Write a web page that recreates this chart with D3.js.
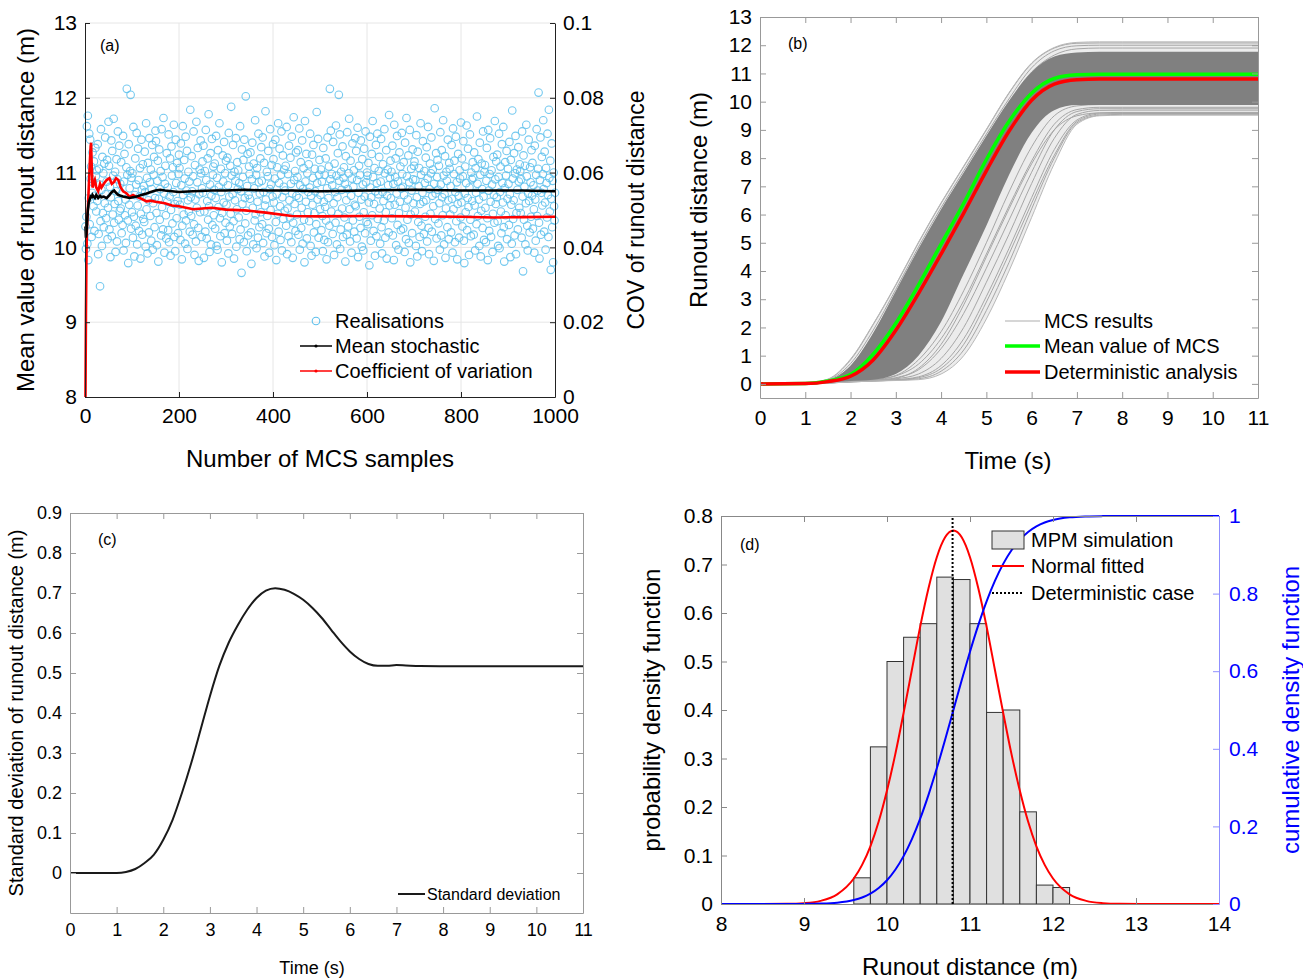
<!DOCTYPE html>
<html lang="en">
<head>
<meta charset="UTF-8">
<title>MCS runout distance</title>
<script src="https://cdn.jsdelivr.net/npm/d3@7"></script>
<style>
  body { margin: 0; background: #fff; }
  svg { display: block; }
</style>
</head>
<body>
<svg id="chart" width="1303" height="979"></svg>
<script>
// ---------- (a) Monte Carlo realisations ----------
const realisations = [
10.28,9.98,10.41,11.62,10.05,11.76,9.83,10.66,11.52,10.31,11.44,10.92,11.08,10.14,10.73,11.27,10.87,10.55,11.15,10.22,10.69,11.33,10.95,10.48,11.03,
10.62,11.38,9.91,10.18,11.05,10.84,9.48,10.35,11.58,10.77,10.02,11.21,10.46,10.99,10.27,11.12,10.59,11.47,10.71,10.39,10.88,11.17,10.11,10.53,11.68,
11.09,10.24,10.81,9.87,10.67,11.43,10.15,11.29,10.44,10.96,11.72,10.33,10.58,11.01,9.94,10.75,11.18,10.08,10.91,11.55,10.62,10.37,11.36,10.49,10.85,
10.52,11.14,10.19,10.72,10.30,11.49,9.96,10.88,11.25,10.43,10.64,10.06,11.07,12.12,10.97,10.36,9.79,11.38,10.57,10.79,11.02,12.04,10.25,10.93,10.47,
10.99,10.13,11.61,10.41,9.88,10.70,11.19,10.29,10.84,11.53,10.04,10.56,11.32,10.90,10.22,10.68,11.06,9.85,10.45,11.44,10.77,10.17,11.11,10.38,10.82,
10.34,11.28,10.74,10.01,11.66,10.51,10.93,9.92,11.13,10.63,10.20,11.46,10.87,10.42,11.04,10.09,10.78,11.37,9.97,10.59,10.97,11.21,10.27,10.66,11.56,
11.42,10.46,10.03,10.89,11.16,9.81,10.65,11.31,10.37,10.78,11.02,10.16,11.58,10.54,10.94,10.24,11.73,10.72,9.93,10.85,11.09,10.43,10.12,11.26,10.61,
10.80,10.23,11.51,10.07,10.68,11.19,9.89,10.50,11.35,10.96,10.32,11.07,10.74,11.64,10.14,10.58,9.95,11.44,10.86,10.39,11.13,10.62,10.19,10.98,11.24,
11.06,10.57,10.10,11.39,10.83,9.84,10.29,11.62,10.70,10.44,11.17,10.92,10.05,11.48,10.36,10.76,11.29,9.98,10.63,11.01,10.48,10.88,10.21,11.84,10.67,
10.42,11.22,10.75,10.17,10.95,11.55,10.31,9.90,11.10,10.64,10.08,11.68,10.53,10.87,11.33,10.26,9.82,10.71,11.04,10.47,11.43,10.99,10.14,10.79,11.15,
10.73,11.36,9.86,10.48,11.02,10.21,11.57,10.90,10.12,10.62,11.19,10.37,11.78,10.55,9.94,10.84,11.26,10.04,10.69,11.45,10.30,10.97,11.08,10.43,10.77,
11.12,10.25,10.66,11.49,10.02,10.93,9.97,11.30,10.54,10.81,11.66,10.39,10.15,11.05,10.74,9.80,10.46,11.23,10.88,10.60,11.41,10.19,10.99,10.33,11.16,
10.57,10.09,11.20,10.83,9.92,11.53,10.68,10.28,11.09,10.45,11.88,10.96,10.18,10.71,11.37,10.35,9.85,11.01,10.63,10.89,11.46,10.01,10.51,11.14,10.78,
11.03,10.40,10.86,10.11,11.62,10.24,10.75,9.66,11.31,10.58,10.94,11.17,10.07,11.44,10.66,10.32,12.02,10.49,9.95,10.82,11.25,10.16,10.70,11.08,10.98,
10.65,11.27,10.20,9.78,10.91,11.40,10.53,10.04,11.12,10.79,10.36,11.70,10.44,10.97,9.99,11.06,10.61,10.13,11.52,10.87,10.27,10.72,11.19,10.47,11.34,
10.89,10.31,11.47,10.06,10.74,11.13,9.88,10.56,11.82,10.64,10.19,11.01,10.42,10.95,11.29,10.25,9.93,10.78,11.58,10.50,10.84,11.10,10.14,10.68,11.38,
11.18,10.60,10.03,10.92,11.44,10.34,9.83,10.71,11.07,10.45,11.66,10.21,10.86,11.32,10.55,10.10,10.97,11.55,9.96,10.67,11.23,10.38,10.81,11.04,10.49,
10.76,11.09,10.29,11.61,9.91,10.52,10.98,10.15,11.36,10.63,10.40,11.20,10.85,10.07,11.48,10.72,9.86,10.33,11.74,10.90,10.58,11.02,10.22,11.27,10.69,
10.44,10.94,11.30,10.17,10.66,11.59,9.97,10.83,11.14,10.26,10.53,11.43,10.05,10.78,11.06,10.37,9.80,11.69,10.88,10.61,11.25,10.12,10.99,10.47,10.74,
11.11,10.35,10.80,11.52,10.02,10.69,9.89,11.24,10.57,10.93,11.37,10.20,10.46,11.05,10.75,9.94,10.31,11.81,10.86,10.64,11.45,10.13,10.97,11.17,10.51,
10.70,11.04,10.23,10.88,10.42,9.95,11.33,10.61,10.10,10.97,10.54,11.19,10.36,9.84,10.79,11.47,10.07,10.66,11.08,10.29,12.12,10.91,11.56,10.48,10.98,
10.83,10.18,11.41,10.59,9.90,11.12,10.74,10.33,11.63,10.96,10.04,10.67,11.26,10.45,12.04,10.89,11.51,9.98,10.24,11.01,10.77,10.52,11.35,10.14,10.93,
11.07,10.40,10.85,9.81,11.22,10.63,10.17,11.54,10.78,10.28,10.99,11.72,10.51,10.08,11.16,10.69,9.93,10.92,11.39,10.36,10.81,11.03,10.21,10.57,11.46,
10.55,11.29,10.12,10.90,11.60,9.87,10.73,11.09,10.41,10.97,10.26,11.43,10.64,10.01,11.18,10.84,9.96,10.47,11.32,10.68,10.19,11.55,10.87,10.34,11.00,
10.96,10.31,11.13,10.60,9.76,11.48,10.80,10.09,10.67,11.25,10.43,11.69,10.94,10.22,10.58,11.06,9.89,10.75,11.37,10.15,10.86,11.52,10.38,10.71,11.02,
11.21,10.52,10.05,10.88,11.45,10.27,9.92,10.74,11.11,10.62,10.36,11.58,10.99,10.13,10.47,11.30,9.85,10.69,11.04,10.83,10.20,11.77,10.56,10.93,11.16,
10.66,11.01,10.39,11.36,10.16,10.85,9.83,11.64,10.57,10.94,11.19,10.03,10.72,11.49,10.30,10.88,9.97,10.46,11.27,10.61,11.08,10.23,10.79,11.53,10.98,
10.81,10.25,11.14,10.70,9.94,11.40,10.53,10.11,11.73,10.95,10.37,10.64,11.23,10.06,10.87,11.57,9.80,10.44,11.05,10.76,10.19,11.31,10.91,10.59,11.09,
11.15,10.48,10.90,10.02,11.50,10.67,9.88,11.28,10.34,10.82,11.06,10.14,10.58,11.66,10.97,10.29,9.95,10.73,11.42,10.61,10.18,11.02,10.86,10.41,11.20,
10.63,11.34,10.08,10.92,11.61,10.26,9.91,10.78,11.12,10.45,10.99,11.47,10.21,10.69,11.04,10.55,9.82,10.85,11.86,10.38,10.72,11.26,10.12,10.94,11.17,
10.77,10.32,11.09,10.59,9.97,11.54,10.84,10.16,11.30,10.67,10.43,11.70,10.96,10.04,10.71,11.22,9.86,10.52,11.01,10.89,10.27,11.44,10.63,10.11,11.13,
11.05,10.44,10.82,10.20,11.37,10.65,9.93,11.59,10.51,10.98,11.16,10.07,10.74,11.48,10.35,10.87,9.84,10.58,11.25,10.69,10.13,11.03,10.92,10.40,11.67,
10.60,11.19,10.28,10.95,11.42,10.09,9.79,10.72,11.08,10.47,10.86,11.63,10.23,10.66,11.32,10.54,9.90,10.80,11.51,10.37,10.15,11.00,10.91,10.62,11.14,
10.93,10.17,11.27,10.56,9.96,11.06,10.73,10.31,11.75,10.85,10.42,11.18,10.64,10.02,11.40,10.97,9.88,10.49,11.12,10.78,10.26,11.55,10.68,10.10,11.01,
11.10,10.53,10.07,10.89,11.33,10.39,9.83,11.57,10.76,10.22,10.98,11.46,10.61,10.14,11.03,10.84,9.94,10.45,11.21,10.70,10.33,11.69,10.91,10.58,11.15,
10.67,11.24,10.35,10.02,10.94,11.52,9.99,10.74,11.08,10.48,10.19,11.38,10.86,10.60,11.61,10.27,9.81,10.79,11.14,10.43,10.96,11.29,10.11,10.65,11.05,
10.85,10.30,11.41,10.71,9.87,11.17,10.57,10.05,11.83,10.92,10.38,10.63,11.26,10.16,10.99,11.49,9.91,10.46,11.04,10.77,10.24,11.34,10.88,10.53,11.11,
11.02,10.46,10.91,10.13,11.55,10.68,9.68,11.23,10.37,10.81,11.09,10.04,10.59,11.64,10.95,10.29,9.96,10.72,11.44,10.62,10.20,11.07,10.87,10.41,11.30,
10.69,11.13,10.25,10.83,10.51,9.93,11.36,10.64,10.09,10.97,11.58,10.42,10.76,11.05,12.07,10.33,9.85,10.90,11.47,10.17,10.73,11.21,10.56,10.98,11.70,
10.78,10.21,11.28,10.60,9.97,11.06,10.86,10.40,11.52,10.70,10.14,11.84,10.93,10.48,11.16,9.70,10.65,11.39,10.27,10.89,9.80,11.00,10.55,10.36,10.73
];

// running statistics read at selected sample counts
const sampleN = [1,2,3,4,6,8,10,12,13,14,16,18,21,24,28,32,35,40,46,52,57,62,66,71,76,81,88,95,102,110,120,131,140,150,160,170,185,200,230,270,300,340,385,440,500,600,700,800,870,930,1000];
const meanStochastic = [10.28,10.13,10.18,10.30,10.50,10.60,10.64,10.68,10.70,10.66,10.70,10.68,10.66,10.70,10.66,10.69,10.67,10.68,10.66,10.70,10.74,10.76,10.73,10.70,10.69,10.68,10.67,10.66,10.67,10.68,10.70,10.72,10.74,10.76,10.77,10.76,10.75,10.74,10.75,10.76,10.76,10.77,10.76,10.76,10.75,10.76,10.77,10.76,10.76,10.76,10.75];
const covRunout = [0,0.022,0.036,0.045,0.050,0.056,0.062,0.067,0.068,0.063,0.056,0.057,0.058,0.056,0.055,0.057,0.056,0.057,0.058,0.0585,0.057,0.0575,0.0585,0.058,0.056,0.055,0.0545,0.0535,0.054,0.0535,0.053,0.0523,0.0525,0.0522,0.052,0.0518,0.0512,0.051,0.0502,0.0506,0.0501,0.0499,0.0493,0.0484,0.0483,0.0484,0.0483,0.0482,0.048,0.0481,0.0482];

// ---------- (b) runout distance histories ----------
const timeB = [0,1,1.5,2,2.5,3,3.5,4,4.5,5,5.5,6,6.5,7,7.5,8,11];
const meanMCS =       [0,0.01,0.10,0.33,1.05,2.15,3.50,4.95,6.40,7.95,9.30,10.30,10.82,10.95,10.97,10.97,10.97];
const deterministic = [0,0.01,0.08,0.27,0.85,1.90,3.20,4.60,6.05,7.55,8.95,10.05,10.62,10.78,10.80,10.80,10.80];
const upperOuter = [0,0.02,0.17,0.88,2.12,3.52,5.02,6.42,7.72,9.02,10.32,11.37,11.92,12.10,12.12,12.12,12.12];
const upperInner = [0,0.01,0.12,0.64,1.80,3.28,4.78,6.18,7.48,8.78,10.02,11.05,11.60,11.74,11.77,11.77,11.77];
const lowerInner = [0,0,0.04,0.10,0.15,0.35,1.00,2.20,3.90,5.60,7.40,8.90,9.70,9.88,9.88,9.88,9.88];
const lowerOuter = [0,0,0.03,0.07,0.10,0.12,0.15,0.35,1.00,2.30,4.00,5.90,7.80,9.20,9.50,9.52,9.52];
const mcsCurves = [
  [0,0,0.03,0.07,0.10,0.13,0.18,0.45,1.20,2.60,4.30,6.20,8.00,9.25,9.52,9.55,9.55],
  [0,0,0.03,0.08,0.11,0.15,0.25,0.65,1.60,3.10,4.80,6.60,8.30,9.35,9.60,9.62,9.62],
  [0,0,0.04,0.08,0.12,0.18,0.35,0.90,2.00,3.60,5.30,7.10,8.70,9.55,9.69,9.70,9.70],
  [0,0,0.04,0.09,0.13,0.22,0.50,1.25,2.50,4.10,5.80,7.50,9.00,9.65,9.75,9.75,9.75],
  [0,0,0.04,0.09,0.14,0.28,0.70,1.60,2.95,4.60,6.30,7.90,9.20,9.72,9.80,9.80,9.80],
  [0,0,0.03,0.08,0.12,0.20,0.55,1.40,2.80,4.50,6.20,7.80,9.00,9.50,9.60,9.60,9.60],
  [0,0,0.04,0.10,0.15,0.30,0.85,1.85,3.30,5.00,6.80,8.40,9.50,9.85,9.90,9.90,9.90],
  [0,0,0.03,0.07,0.10,0.14,0.22,0.55,1.40,2.90,4.60,6.40,8.10,9.30,9.56,9.58,9.58],
  [0,0.02,0.16,0.85,2.10,3.50,5.00,6.40,7.70,9.00,10.30,11.35,11.90,12.07,12.08,12.08,12.08],
  [0,0.02,0.14,0.72,1.90,3.35,4.85,6.25,7.55,8.85,10.10,11.20,11.80,11.98,12.00,12.00,12.00],
  [0,0.01,0.12,0.62,1.75,3.25,4.75,6.15,7.45,8.75,10.00,11.05,11.65,11.87,11.90,11.90,11.90]
];

// ---------- (c) standard deviation ----------
const timeC = [0,0.5,1,1.2,1.4,1.6,1.8,2,2.2,2.4,2.6,2.8,3,3.2,3.4,3.6,3.8,4,4.2,4.4,4.6,4.8,5,5.2,5.4,5.6,5.8,6,6.2,6.4,6.6,6.8,7,7.2,7.5,8,9,10,11];
const stdRunout = [0,0,0,0.0025,0.01,0.025,0.046,0.083,0.133,0.200,0.275,0.358,0.442,0.517,0.575,0.620,0.658,0.6875,0.706,0.712,0.708,0.698,0.683,0.6625,0.6375,0.608,0.579,0.554,0.535,0.5225,0.518,0.518,0.520,0.519,0.5175,0.517,0.517,0.517,0.517];

// ---------- (d) distribution of final runout ----------
const binStart = [9.6,9.8,10.0,10.2,10.4,10.6,10.8,11.0,11.2,11.4,11.6,11.8,12.0];
const binWidth = 0.2;
const binDensity = [0.054,0.324,0.50,0.55,0.578,0.674,0.669,0.578,0.395,0.40,0.19,0.039,0.034];
const runoutX = [8,8.8,9.0,9.2,9.4,9.6,9.7,9.8,9.9,10.0,10.1,10.2,10.3,10.4,10.5,10.6,10.7,10.8,10.9,11.0,11.1,11.2,11.3,11.4,11.5,11.6,11.7,11.8,11.9,12.0,12.2,12.4,12.6,12.8,13.2,14];
const normalPdf = [0,0.0004,0.0018,0.0065,0.020,0.0526,0.0807,0.119,0.170,0.234,0.309,0.394,0.483,0.572,0.651,0.715,0.756,0.770,0.756,0.715,0.651,0.572,0.483,0.394,0.309,0.234,0.170,0.119,0.0807,0.0526,0.020,0.0065,0.0018,0.0004,0,0];
const normalCdf = [0,0.00006,0.0003,0.001,0.0034,0.0103,0.0168,0.0267,0.0412,0.0613,0.0884,0.1234,0.1673,0.2200,0.2813,0.3497,0.4235,0.5,0.5765,0.6503,0.7187,0.78,0.8327,0.8766,0.9116,0.9387,0.9588,0.9733,0.9832,0.9897,0.9966,0.999,0.9997,0.9999,1,1];
const deterministicRunout = 10.79;

// ---------- drawing ----------
const FONT = '"Liberation Sans", Arial, Helvetica, sans-serif';
const svg = d3.select('#chart').attr('font-family', FONT);

function styleAxis(g, size, textColor, lineColor) {
  g.attr('font-family', FONT).attr('font-size', size);
  g.selectAll('text').attr('fill', textColor);
  g.selectAll('.tick line').attr('stroke', lineColor);
  g.select('.domain').attr('stroke', lineColor);
}

function label(x, y, text, size, opts = {}) {
  const t = svg.append('text')
    .attr('x', x).attr('y', y)
    .attr('font-size', size)
    .attr('fill', opts.color || '#000')
    .attr('text-anchor', opts.anchor || 'start')
    .text(text);
  if (opts.rotate) {
    t.attr('dominant-baseline', 'central')
     .attr('transform', `rotate(-90,${x},${y})`);
  }
  return t;
}

const fmt = d => String(+d.toFixed(2));

// ===== panel (a) =====
const xA = d3.scaleLinear().domain([0, 1000]).range([85, 555]);
const yA = d3.scaleLinear().domain([8, 13]).range([397, 23]);
const yA2 = d3.scaleLinear().domain([0, 0.1]).range([397, 23]);
const gA = svg.append('g');

gA.selectAll('.gx').data([200, 400, 600, 800]).join('line')
  .attr('x1', d => xA(d)).attr('x2', d => xA(d))
  .attr('y1', yA(8)).attr('y2', yA(13))
  .attr('stroke', '#e6e6e6');
gA.selectAll('.gy').data([9, 10, 11, 12, 13]).join('line')
  .attr('x1', xA(0)).attr('x2', xA(1000))
  .attr('y1', d => yA(d)).attr('y2', d => yA(d))
  .attr('stroke', '#e6e6e6');

gA.append('g').selectAll('circle').data(realisations).join('circle')
  .attr('cx', (d, i) => xA(i + 1))
  .attr('cy', d => yA(d))
  .attr('r', 3.8)
  .attr('fill', 'none')
  .attr('stroke', '#5cbfec')
  .attr('stroke-opacity', 0.85)
  .attr('stroke-width', 1.1);

const idxA = sampleN.map((d, i) => i);
gA.append('path').datum(idxA)
  .attr('d', d3.line().x(i => xA(sampleN[i])).y(i => yA2(covRunout[i])))
  .attr('fill', 'none').attr('stroke', '#ff0000').attr('stroke-width', 2.6);
gA.append('path').datum(idxA)
  .attr('d', d3.line().x(i => xA(sampleN[i])).y(i => yA(meanStochastic[i])))
  .attr('fill', 'none').attr('stroke', '#000').attr('stroke-width', 2.6);

styleAxis(gA.append('g').attr('transform', 'translate(0,397)')
  .call(d3.axisBottom(xA).tickValues([0, 200, 400, 600, 800, 1000]).tickFormat(fmt).tickSize(-5).tickSizeOuter(0).tickPadding(11)),
  21, '#000', '#222');
styleAxis(gA.append('g').attr('transform', 'translate(85,0)')
  .call(d3.axisLeft(yA).tickValues([8, 9, 10, 11, 12, 13]).tickFormat(fmt).tickSize(-5).tickSizeOuter(0).tickPadding(8)),
  21, '#000', '#222');
styleAxis(gA.append('g').attr('transform', 'translate(555,0)')
  .call(d3.axisRight(yA2).tickValues([0, 0.02, 0.04, 0.06, 0.08, 0.1]).tickFormat(fmt).tickSize(-5).tickSizeOuter(0).tickPadding(8)),
  21, '#000', '#222');

label(100, 51, '(a)', 16);
label(320, 467, 'Number of MCS samples', 24, { anchor: 'middle' });
label(25, 210, 'Mean value of runout distance (m)', 24, { anchor: 'middle', rotate: true });
label(636, 210, 'COV of runout distance', 23, { anchor: 'middle', rotate: true });

// legend (a)
svg.append('circle').attr('cx', 316).attr('cy', 321).attr('r', 3.8)
  .attr('fill', 'none').attr('stroke', '#5cbfec').attr('stroke-width', 1.1);
[[346, '#000'], [371, '#ff0000']].forEach(([y, c]) => {
  svg.append('line').attr('x1', 300).attr('x2', 332).attr('y1', y).attr('y2', y)
    .attr('stroke', c).attr('stroke-width', 1.5);
  svg.append('circle').attr('cx', 316).attr('cy', y).attr('r', 1.6).attr('fill', c);
});
label(335, 328, 'Realisations', 20);
label(335, 353, 'Mean stochastic', 20);
label(335, 378, 'Coefficient of variation', 20);

// ===== panel (b) =====
const xB = d3.scaleLinear().domain([0, 11]).range([760, 1258]);
const yB = d3.scaleLinear().domain([-0.5, 13]).range([398, 17]);
const gB = svg.append('g');
const idxB = timeB.map((d, i) => i);
const bandB = (lo, hi) => d3.area().x(i => xB(timeB[i])).y0(i => yB(lo[i])).y1(i => yB(hi[i])).curve(d3.curveMonotoneX);
const lineB = arr => d3.line().x(i => xB(timeB[i])).y(i => yB(arr[i])).curve(d3.curveMonotoneX);

gB.append('path').datum(idxB).attr('d', bandB(lowerOuter, upperOuter)).attr('fill', '#ececec');
mcsCurves.forEach(c => {
  gB.append('path').datum(idxB).attr('d', lineB(c))
    .attr('fill', 'none').attr('stroke', '#a6a6a6').attr('stroke-width', 1);
});
gB.append('path').datum(idxB).attr('d', lineB(lowerOuter))
  .attr('fill', 'none').attr('stroke', '#b8b8b8').attr('stroke-width', 1);
gB.append('path').datum(idxB).attr('d', lineB(upperOuter))
  .attr('fill', 'none').attr('stroke', '#b8b8b8').attr('stroke-width', 1);
gB.append('path').datum(idxB).attr('d', bandB(lowerInner, upperInner)).attr('fill', '#808080');
gB.append('path').datum(idxB).attr('d', lineB(meanMCS))
  .attr('fill', 'none').attr('stroke', '#00ff00').attr('stroke-width', 3.5);
gB.append('path').datum(idxB).attr('d', lineB(deterministic))
  .attr('fill', 'none').attr('stroke', '#ff0000').attr('stroke-width', 3.5);

function boxAxes(g, x, y, xt, yt, size, xPad, boxColor) {
  const [x0, x1] = x.range(), [y0, y1] = y.range();
  styleAxis(g.append('g').attr('transform', `translate(0,${y0})`)
    .call(d3.axisBottom(x).tickValues(xt).tickFormat(fmt).tickSize(-6).tickSizeOuter(0).tickPadding(xPad)), size, '#000', boxColor);
  styleAxis(g.append('g').attr('transform', `translate(${x0},0)`)
    .call(d3.axisLeft(y).tickValues(yt).tickFormat(fmt).tickSize(-6).tickSizeOuter(0).tickPadding(8)), size, '#000', boxColor);
  styleAxis(g.append('g').attr('transform', `translate(0,${y1})`)
    .call(d3.axisTop(x).tickValues(xt).tickFormat('').tickSize(-6).tickSizeOuter(0)), size, '#000', boxColor);
  styleAxis(g.append('g').attr('transform', `translate(${x1},0)`)
    .call(d3.axisRight(y).tickValues(yt).tickFormat('').tickSize(-6).tickSizeOuter(0)), size, '#000', boxColor);
}
boxAxes(gB, xB, yB, d3.range(0, 12), d3.range(0, 14), 21, 12, '#999');

label(788, 49, '(b)', 16);
label(1008, 469, 'Time (s)', 24, { anchor: 'middle' });
label(698, 200, 'Runout distance (m)', 24, { anchor: 'middle', rotate: true });

[[321, '#c8c8c8', 1.5, 'MCS results'], [346, '#00ff00', 3.5, 'Mean value of MCS'], [372, '#ff0000', 3.5, 'Deterministic analysis']]
  .forEach(([y, c, w, t]) => {
    svg.append('line').attr('x1', 1005).attr('x2', 1040).attr('y1', y).attr('y2', y)
      .attr('stroke', c).attr('stroke-width', w);
    label(1044, y + 7, t, 20);
  });

// ===== panel (c) =====
const xC = d3.scaleLinear().domain([0, 11]).range([70, 583]);
const yC = d3.scaleLinear().domain([-0.1, 0.9]).range([913, 513]);
const gC = svg.append('g');
gC.append('path').datum(timeC.map((d, i) => i))
  .attr('d', d3.line().x(i => xC(timeC[i])).y(i => yC(stdRunout[i])).curve(d3.curveMonotoneX))
  .attr('fill', 'none').attr('stroke', '#1a1a1a').attr('stroke-width', 2);
boxAxes(gC, xC, yC, d3.range(0, 12), d3.range(0, 10).map(d => d / 10), 18, 10, '#999');

label(98, 545, '(c)', 16);
label(312, 974, 'Time (s)', 18, { anchor: 'middle' });
label(16, 713, 'Standard deviation of runout distance (m)', 20, { anchor: 'middle', rotate: true });
svg.append('line').attr('x1', 398).attr('x2', 425).attr('y1', 894).attr('y2', 894)
  .attr('stroke', '#1a1a1a').attr('stroke-width', 2);
label(427, 900, 'Standard deviation', 16);

// ===== panel (d) =====
const xD = d3.scaleLinear().domain([8, 14]).range([721, 1219]);
const yD = d3.scaleLinear().domain([0, 0.8]).range([904, 516]);
const yD2 = d3.scaleLinear().domain([0, 1]).range([904, 516]);
const gD = svg.append('g');

gD.selectAll('rect').data(binStart).join('rect')
  .attr('x', d => xD(d))
  .attr('width', d => xD(d + binWidth) - xD(d))
  .attr('y', (d, i) => yD(binDensity[i]))
  .attr('height', (d, i) => yD(0) - yD(binDensity[i]))
  .attr('fill', '#e0e0e0').attr('stroke', '#333').attr('stroke-width', 1);

const idxD = runoutX.map((d, i) => i);
gD.append('path').datum(idxD)
  .attr('d', d3.line().x(i => xD(runoutX[i])).y(i => yD(normalPdf[i])).curve(d3.curveMonotoneX))
  .attr('fill', 'none').attr('stroke', '#ff0000').attr('stroke-width', 2);
gD.append('path').datum(idxD)
  .attr('d', d3.line().x(i => xD(runoutX[i])).y(i => yD2(normalCdf[i])).curve(d3.curveMonotoneX))
  .attr('fill', 'none').attr('stroke', '#0000ff').attr('stroke-width', 2);
gD.append('line')
  .attr('x1', xD(deterministicRunout)).attr('x2', xD(deterministicRunout))
  .attr('y1', yD(0)).attr('y2', yD(0.8))
  .attr('stroke', '#000').attr('stroke-width', 2).attr('stroke-dasharray', '2,2');

styleAxis(gD.append('g').attr('transform', 'translate(0,904)')
  .call(d3.axisBottom(xD).tickValues(d3.range(8, 15)).tickFormat(fmt).tickSize(-6).tickSizeOuter(0).tickPadding(12)), 21, '#000', '#888');
styleAxis(gD.append('g').attr('transform', 'translate(0,516)')
  .call(d3.axisTop(xD).tickValues(d3.range(8, 15)).tickFormat('').tickSize(-6).tickSizeOuter(0)), 21, '#000', '#888');
styleAxis(gD.append('g').attr('transform', 'translate(721,0)')
  .call(d3.axisLeft(yD).tickValues(d3.range(0, 9).map(d => d / 10)).tickFormat(fmt).tickSize(-6).tickSizeOuter(0).tickPadding(8)), 21, '#000', '#888');
styleAxis(gD.append('g').attr('transform', 'translate(1219,0)')
  .call(d3.axisRight(yD2).tickValues([0, 0.2, 0.4, 0.6, 0.8, 1]).tickFormat(fmt).tickSize(-6).tickSizeOuter(0).tickPadding(10)), 21, '#0000ff', '#8f8fff');

label(740, 550, '(d)', 16);
label(970, 975, 'Runout distance (m)', 24, { anchor: 'middle' });
label(651, 710, 'probability density function', 24, { anchor: 'middle', rotate: true });
label(1290, 710, 'cumulative density function', 24, { anchor: 'middle', rotate: true, color: '#0000ff' });

svg.append('rect').attr('x', 992).attr('y', 531).attr('width', 32).attr('height', 18)
  .attr('fill', '#e0e0e0').attr('stroke', '#333').attr('stroke-width', 1);
svg.append('line').attr('x1', 992).attr('x2', 1024).attr('y1', 566).attr('y2', 566)
  .attr('stroke', '#ff0000').attr('stroke-width', 2);
svg.append('line').attr('x1', 992).attr('x2', 1024).attr('y1', 593).attr('y2', 593)
  .attr('stroke', '#000').attr('stroke-width', 2).attr('stroke-dasharray', '2,2');
label(1031, 547, 'MPM simulation', 20);
label(1031, 573, 'Normal fitted', 20);
label(1031, 600, 'Deterministic case', 20);
</script>
</body>
</html>
